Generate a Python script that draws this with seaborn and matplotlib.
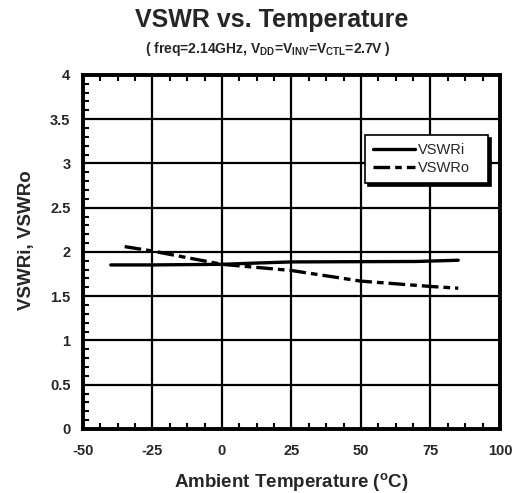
import matplotlib
matplotlib.use("Agg")
import matplotlib.pyplot as plt
from matplotlib.ticker import MultipleLocator
import seaborn as sns
import pandas as pd

# Measured VSWR versus ambient temperature
temp_i = [-40, -25, 0, 13, 25, 50, 70, 85]
vswr_i = [1.853, 1.853, 1.86, 1.875, 1.887, 1.89, 1.892, 1.906]
temp_o = [-35, -25, 0, 25, 50, 75, 85]
vswr_o = [2.06, 2.01, 1.86, 1.79, 1.67, 1.61, 1.59]

x_ticks = [-50, -25, 0, 25, 50, 75, 100]
y_ticks = [0, 0.5, 1, 1.5, 2, 2.5, 3, 3.5, 4]
y_tick_labels = ["0", "0.5", "1", "1.5", "2", "2.5", "3", "3.5", "4"]

sns.set_theme(style="white")
plt.rcParams["font.family"] = ["Liberation Sans", "DejaVu Sans"]
plt.rcParams["mathtext.fontset"] = "custom"
plt.rcParams["mathtext.rm"] = "Liberation Sans:bold"
plt.rcParams["mathtext.it"] = "Liberation Sans:bold"
plt.rcParams["mathtext.bf"] = "Liberation Sans:bold"

df_i = pd.DataFrame({"temp": temp_i, "vswr": vswr_i})
df_o = pd.DataFrame({"temp": temp_o, "vswr": vswr_o})

fig = plt.figure(figsize=(5.17, 4.93), dpi=100)
ax = fig.add_axes([0.1605, 0.130, 0.8065, 0.718])

sns.lineplot(data=df_i, x="temp", y="vswr", ax=ax, color="black",
             linewidth=2.4, label="VSWRi", sort=False)
sns.lineplot(data=df_o, x="temp", y="vswr", ax=ax, color="black",
             linewidth=2.4, label="VSWRo", sort=False,
             linestyle=(0, (5, 1.5, 2, 1.5)))

ax.set_xlim(-50, 100)
ax.set_ylim(0, 4)
ax.set_xticks(x_ticks)
ax.set_yticks(y_ticks)
ax.xaxis.set_minor_locator(MultipleLocator(6.25))
ax.yaxis.set_minor_locator(MultipleLocator(0.1))
ax.set_xticklabels([str(v) for v in x_ticks], fontweight="bold", fontsize=10.5)
ax.set_yticklabels(y_tick_labels, fontweight="bold", fontsize=10.5)
ax.tick_params(axis="x", which="major", length=0, pad=11)
ax.tick_params(axis="y", which="major", length=0, pad=9)
ax.tick_params(axis="both", which="minor", direction="in", length=4,
               width=1.5, color="black", top=True, bottom=True, left=True,
               right=False)

ax.grid(True, which="major", color="black", linewidth=1.6)
for s in ax.spines.values():
    s.set_color("black")
    s.set_linewidth(2.8)

ax.set_xlabel("Ambient Temperature ($^{o}$C)", fontweight="bold",
              fontsize=13.5, labelpad=9)
ax.set_ylabel("VSWRi, VSWRo", fontweight="bold", fontsize=13.5)
ax.yaxis.set_label_coords(-0.115, 0.533)

fig.text(0.526, 0.960, "VSWR vs. Temperature", ha="center", va="center",
         fontweight="bold", fontsize=18)
fig.text(0.517, 0.900,
         "( freq=2.14GHz, V$_{DD}$=V$_{INV}$=V$_{CTL}$=2.7V )",
         ha="center", va="center", fontweight="bold", fontsize=10)

leg = ax.legend(loc="upper left", bbox_to_anchor=(0.676, 0.668, 0.295, 0.161),
                mode="expand", frameon=True, fancybox=False,
                shadow={"color": "black", "alpha": 1},
                fontsize=10.5, handlelength=2.9, handletextpad=0.2,
                borderpad=0.55, labelspacing=0.25, borderaxespad=0)
leg.get_frame().set_edgecolor("black")
leg.get_frame().set_linewidth(1.2)
leg.get_frame().set_facecolor("white")

fig.savefig("out.png", dpi=100)
